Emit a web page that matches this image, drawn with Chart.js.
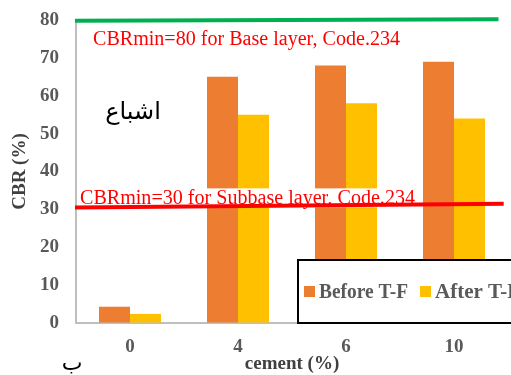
<!DOCTYPE html>
<html>
<head>
<meta charset="utf-8">
<script src="https://cdn.jsdelivr.net/npm/chart.js@4.4.1/dist/chart.umd.min.js"></script>
<style>
  html, body { margin: 0; padding: 0; background: #ffffff; }
  #wrap { width: 511px; height: 375px; position: relative; }
</style>
</head>
<body>
<div id="wrap"><canvas id="c" width="511" height="375"></canvas></div>
<script>
// ---- data ----
const categories = ['0', '4', '6', '10'];
const beforeTF = [4.3, 65, 68, 69];
const afterTF = [2.4, 55, 58, 54];
const seriesNames = ['Before T-F', 'After T-F'];
const baseLimit = [79.8, 80.2];      // green line, left/right ends (CBR %)
const subbaseLimit = [30.5, 31.5];   // red line, left/right ends (CBR %)
const baseText = 'CBRmin=80 for Base layer, Code.234';
const subbaseText = 'CBRmin=30 for Subbase layer, Code.234';
const yTitle = 'CBR (%)';
const xTitle = 'cement (%)';
const arabicLabel = 'اشباع';
const arabicCorner = 'ب';

const SERIF = "'Liberation Serif', 'Times New Roman', serif";
const ORANGE = '#ED7D31', YELLOW = '#FFC000';

function fitText(ctx, text, x, y, targetW) {
  const w = ctx.measureText(text).width;
  const s = targetW / w;
  ctx.save();
  ctx.translate(x, y);
  ctx.scale(s, 1);
  ctx.fillText(text, 0, 0);
  ctx.restore();
}

function limitLine(chart, vals, endFrac, color) {
  const ctx = chart.ctx, y = chart.scales.y, a = chart.chartArea;
  ctx.save();
  ctx.strokeStyle = color;
  ctx.lineWidth = 4;
  ctx.beginPath();
  ctx.moveTo(a.left - 1, y.getPixelForValue(vals[0]));
  ctx.lineTo(a.left + (a.right - a.left) * endFrac, y.getPixelForValue(vals[1]));
  ctx.stroke();
  ctx.restore();
}

const annotations = {
  id: 'annotations',
  afterDatasetsDraw(chart) {
    const ctx = chart.ctx, y = chart.scales.y;
    limitLine(chart, baseLimit, 0.978, '#00B050');
    ctx.save();
    ctx.fillStyle = '#ff0000';
    ctx.font = '20px ' + SERIF;
    ctx.textBaseline = 'alphabetic';
    ctx.textAlign = 'left';
    fitText(ctx, baseText, 93, y.getPixelForValue(80) + 25, 307);
    const yb = y.getPixelForValue(30) - 5;
    ctx.fillStyle = '#ffffff';
    ctx.fillRect(77, yb - 16, 341, 19);
    ctx.fillStyle = '#ff0000';
    fitText(ctx, subbaseText, 80, yb, 335);
    ctx.restore();
    limitLine(chart, subbaseLimit, 0.99, '#FF0000');
    ctx.save();
    ctx.fillStyle = '#000000';
    ctx.textAlign = 'center';
    ctx.textBaseline = 'alphabetic';
    ctx.font = "24px 'DejaVu Serif', 'DejaVu Sans', serif";
    ctx.fillText(arabicLabel, 133, y.getPixelForValue(55) + 4);
    ctx.font = "22px 'DejaVu Sans', serif";
    ctx.fillText(arabicCorner, 72, 370);
    ctx.restore();
  },
  afterDraw(chart) {
    const ctx = chart.ctx;
    ctx.save();
    ctx.fillStyle = '#ffffff';
    ctx.fillRect(297, 259, 230, 64);
    ctx.strokeStyle = '#000000';
    ctx.lineWidth = 2;
    ctx.strokeRect(298, 260, 230, 63);
    const cols = [ORANGE, YELLOW];
    const xs = [304, 420];
    ctx.font = 'bold 20px ' + SERIF;
    ctx.textBaseline = 'alphabetic';
    ctx.textAlign = 'left';
    for (let i = 0; i < 2; i++) {
      ctx.fillStyle = cols[i];
      ctx.fillRect(xs[i], 286, 11, 11);
      ctx.fillStyle = '#595959';
      fitText(ctx, chart.data.datasets[i].label, xs[i] + 15, 298, i === 0 ? 89 : 85);
    }
    ctx.restore();
  }
};

new Chart(document.getElementById('c'), {
  type: 'bar',
  data: {
    labels: categories,
    datasets: [
      { label: seriesNames[0], data: beforeTF, backgroundColor: ORANGE },
      { label: seriesNames[1], data: afterTF, backgroundColor: YELLOW }
    ]
  },
  options: {
    responsive: false,
    animation: false,
    categoryPercentage: 0.574,
    barPercentage: 1.0,
    layout: { padding: { top: 20, right: 3, left: 0, bottom: 0 } },
    plugins: { legend: { display: false }, tooltip: { enabled: false } },
    scales: {
      x: {
        grid: { display: false, drawTicks: false },
        border: { display: true, color: '#BFBFBF', width: 2 },
        ticks: { color: '#595959', font: { family: SERIF, size: 19, weight: 'bold' }, padding: 13 },
        title: { display: true, text: xTitle, color: '#404040',
                 font: { family: SERIF, size: 19, weight: 'bold' }, padding: { top: 0, bottom: 0 } },
        afterFit(s) { s.height = 52; }
      },
      y: {
        min: 0, max: 80,
        grid: { display: true, drawOnChartArea: false, drawTicks: true, tickLength: 17, tickColor: 'rgba(0,0,0,0)' },
        border: { display: true, color: '#BFBFBF', width: 2 },
        ticks: { stepSize: 10, color: '#595959', font: { family: SERIF, size: 19, weight: 'bold' }, padding: 0 },
        title: { display: true, text: yTitle, color: '#404040',
                 font: { family: SERIF, size: 19, weight: 'bold' }, padding: { top: 9, bottom: 0 } },
        afterFit(s) { s.width = 76; }
      }
    }
  },
  plugins: [annotations]
});
</script>
</body>
</html>
